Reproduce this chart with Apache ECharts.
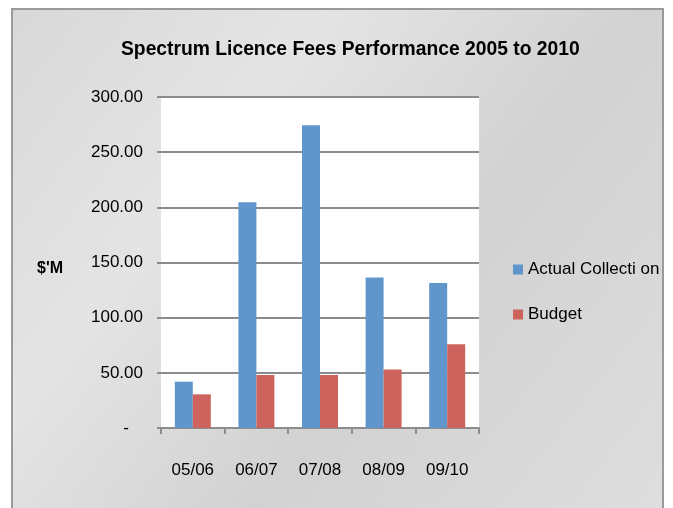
<!DOCTYPE html>
<html>
<head>
<meta charset="utf-8">
<script src="https://cdn.jsdelivr.net/npm/echarts@6/dist/echarts.min.js"></script>
<style>
  html, body { margin: 0; padding: 0; background: #fff; }
  #chart { width: 673px; height: 508px; }
</style>
</head>
<body>
<div id="chart"></div>
<script>
var seasons = ['05/06', '06/07', '07/08', '08/09', '09/10'];
var actualCollection = [42, 204.5, 274.5, 136.5, 131.5];
var budget = [30.5, 48, 48, 53, 76];
var seriesNames = ['Actual Collecti on', 'Budget'];

var font = "'Liberation Sans', sans-serif";

var chart = echarts.init(document.getElementById('chart'));
var option = {
    backgroundColor: '#fff',
    textStyle: { fontFamily: font },
    graphic: [
        {
            type: 'rect',
            z: -10,
            shape: { x: 12, y: 9, width: 651, height: 510 },
            style: {
                fill: {
                    type: 'linear', x: 0, y: 0, x2: 1, y2: 1,
                    colorStops: [
                        { offset: 0, color: '#d8d8d8' },
                        { offset: 0.3, color: '#e4e4e4' },
                        { offset: 0.6, color: '#d2d2d2' },
                        { offset: 1, color: '#dedede' }
                    ]
                },
                stroke: '#9a9a9a',
                lineWidth: 2
            }
        },
        {
            type: 'text',
            left: 37,
            top: 261,
            style: { text: "$'M", fontSize: 16, fontWeight: 'bold', fill: '#000', fontFamily: font }
        }
    ],
    title: {
        text: 'Spectrum Licence Fees Performance 2005 to 2010',
        left: 116,
        top: 35,
        textStyle: { fontFamily: font, fontSize: 19.3, fontWeight: 'bold', color: '#000' }
    },
    legend: {
        orient: 'vertical',
        left: 508,
        top: 256,
        itemWidth: 10,
        itemHeight: 10,
        itemGap: 28,
        icon: 'rect',
        data: seriesNames,
        textStyle: { fontFamily: font, fontSize: 17, color: '#000' }
    },
    grid: {
        left: 161,
        right: 194,
        top: 97,
        bottom: 80,
        show: true,
        backgroundColor: '#ffffff',
        borderWidth: 0
    },
    xAxis: {
        type: 'category',
        data: seasons,
        axisLine: { lineStyle: { color: '#8c8c8c', width: 2 } },
        axisTick: { show: true, length: 6, lineStyle: { color: '#8c8c8c', width: 2 } },
        axisLabel: { margin: 34, fontSize: 17, color: '#000', fontFamily: font }
    },
    yAxis: {
        type: 'value',
        min: 0,
        max: 300,
        interval: 50,
        axisLine: { show: false },
        axisTick: { show: true, length: 4, lineStyle: { color: '#8c8c8c', width: 2 } },
        splitLine: { lineStyle: { color: '#8c8c8c', width: 2 } },
        axisLabel: {
            margin: 18,
            fontSize: 17,
            color: '#000',
            fontFamily: font,
            formatter: function (v) { return v === 0 ? '-   ' : v.toFixed(2); }
        }
    },
    series: [
        {
            name: seriesNames[0],
            type: 'bar',
            data: actualCollection,
            barWidth: 18,
            barGap: '0%',
            itemStyle: { color: '#6096cc' }
        },
        {
            name: seriesNames[1],
            type: 'bar',
            data: budget,
            barWidth: 18,
            itemStyle: { color: '#cd635d' }
        }
    ]
};
chart.setOption(option);
window.onresize = chart.resize;
</script>
</body>
</html>
